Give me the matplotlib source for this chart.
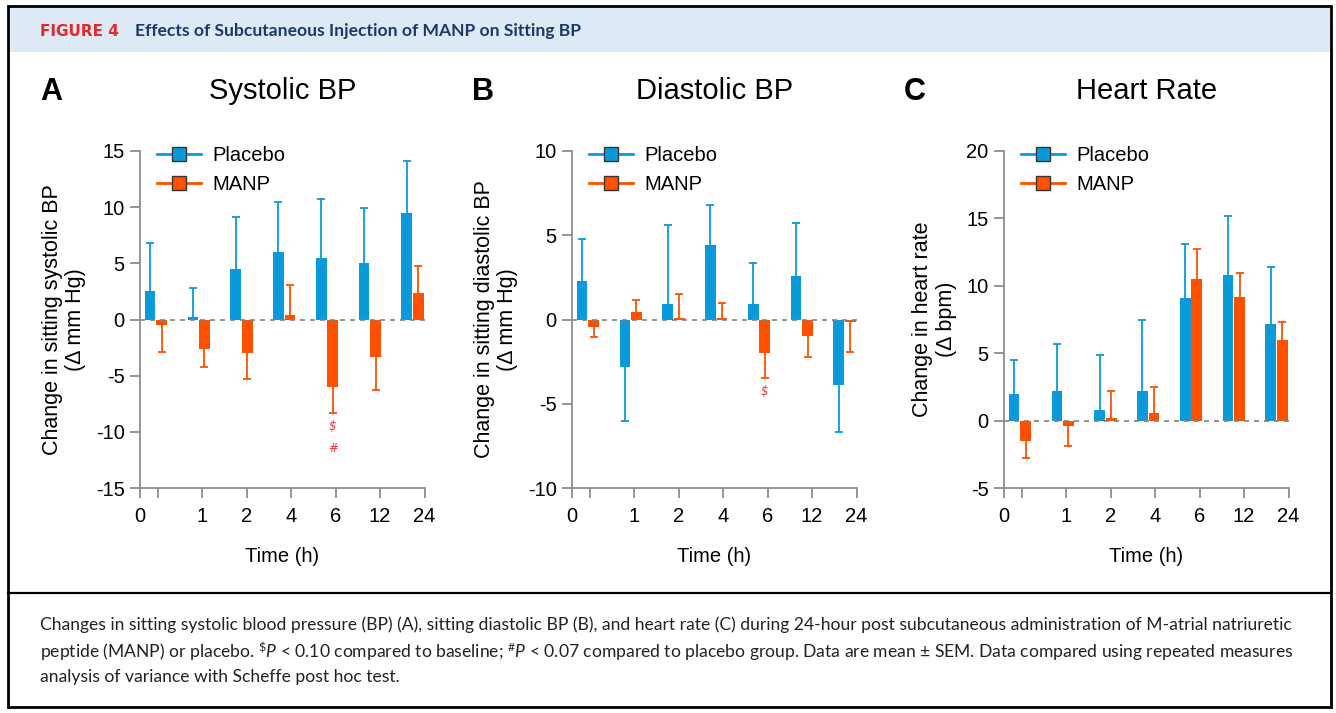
import numpy as np
import matplotlib
matplotlib.use("Agg")
from matplotlib import pyplot as plt
from matplotlib.lines import Line2D
from matplotlib.patches import Rectangle

# time points (h)
times = ["0", "1", "2", "4", "6", "12", "24"]

# systolic BP change (mm Hg), mean and SEM
sys_placebo = [2.5, 0.2, 4.5, 6.0, 5.5, 5.0, 9.5]
sys_placebo_sem = [4.3, 2.6, 4.6, 4.5, 5.2, 4.9, 4.6]
sys_manp = [-0.5, -2.6, -3.0, 0.4, -6.0, -3.3, 2.4]
sys_manp_sem = [2.4, 1.6, 2.3, 2.7, 2.3, 3.0, 2.4]

# diastolic BP change (mm Hg)
dia_placebo = [2.3, -2.8, 0.9, 4.4, 0.9, 2.6, -3.9]
dia_placebo_sem = [2.5, 3.2, 4.7, 2.4, 2.45, 3.15, 2.8]
dia_manp = [-0.45, 0.45, 0.1, 0.1, -2.0, -0.95, -0.15]
dia_manp_sem = [0.6, 0.7, 1.4, 0.9, 1.45, 1.25, 1.8]

# heart rate change (bpm)
hr_placebo = [2.0, 2.2, 0.8, 2.2, 9.1, 10.8, 7.2]
hr_placebo_sem = [2.5, 3.5, 4.1, 5.3, 4.0, 4.4, 4.2]
hr_manp = [-1.55, -0.4, 0.2, 0.6, 10.5, 9.15, 6.0]
hr_manp_sem = [1.25, 1.5, 2.0, 1.9, 2.25, 1.8, 1.3]

BLUE = "#0a9ad9"
ORANGE = "#ff5000"
AXGRAY = "#8c8c8c"
SIGRED = "#f0323c"
FS = 14.5

plt.rcParams["font.family"] = ["Liberation Sans", "DejaVu Sans"]
plt.rcParams["axes.unicode_minus"] = False

W, H = 1336, 713
fig = plt.figure(figsize=(W / 100, H / 100), dpi=100)


def fx(px):
    return px / W


def fy(py):
    return 1 - py / H


# frame, header band and caption separator
fig.patches.append(Rectangle((fx(8), fy(52)), fx(1323), 45 / H, transform=fig.transFigure,
                             facecolor="#dde9f5", edgecolor="none", zorder=0))
fig.patches.append(Rectangle((fx(8), fy(707)), fx(1323), 701 / H, transform=fig.transFigure,
                             facecolor="none", edgecolor="black", lw=2, zorder=5))
fig.lines.append(Line2D([fx(8), fx(1331)], [fy(593), fy(593)], transform=fig.transFigure,
                        color="black", lw=1.6))

fig.text(fx(40), fy(31), "FIGURE 4", color="#e0282e", fontsize=11, fontweight="bold",
         family="DejaVu Sans", va="center", ha="left")
fig.text(fx(135), fy(31), "Effects of Subcutaneous Injection of MANP on Sitting BP",
         color="#1b3a6b", fontsize=12.6, fontweight="bold", family="Lato", va="center", ha="left")

plt.rcParams["mathtext.fontset"] = "custom"
plt.rcParams["mathtext.rm"] = "Lato"
plt.rcParams["mathtext.it"] = "Lato:italic"
caption = [
    "Changes in sitting systolic blood pressure (BP) (A), sitting diastolic BP (B), and heart rate (C) "
    "during 24-hour post subcutaneous administration of M-atrial natriuretic",
    r"peptide (MANP) or placebo. $^{\$}\mathit{P}$ < 0.10 compared to baseline; "
    r"$^{\#}\mathit{P}$ < 0.07 compared to placebo group. Data are mean $\pm$ SEM. "
    "Data compared using repeated measures",
    "analysis of variance with Scheffe post hoc test.",
]
for i, line in enumerate(caption):
    fig.text(fx(40), fy(625 + 26 * i), line, fontsize=12.6, family="Lato", color="#222222",
             va="center", ha="left")

panels = [
    dict(letter="A", title="Systolic BP", left=140, right=425,
         ylabel="Change in sitting systolic BP\n(\u0394 mm Hg)", ylim=(-15, 15),
         placebo=sys_placebo, p_sem=sys_placebo_sem, manp=sys_manp, m_sem=sys_manp_sem,
         marks=["$", "#"]),
    dict(letter="B", title="Diastolic BP", left=572, right=857,
         ylabel="Change in sitting diastolic BP\n(\u0394 mm Hg)", ylim=(-10, 10),
         placebo=dia_placebo, p_sem=dia_placebo_sem, manp=dia_manp, m_sem=dia_manp_sem,
         marks=["$"]),
    dict(letter="C", title="Heart Rate", left=1004, right=1289,
         ylabel="Change in heart rate\n(\u0394 bpm)", ylim=(-5, 20),
         placebo=hr_placebo, p_sem=hr_placebo_sem, manp=hr_manp, m_sem=hr_manp_sem,
         marks=[]),
]

x = np.arange(len(times))
width = 0.25
off = 0.135
tick_pos = np.linspace(0.04, 6.28, len(times))
xmin, xmax = -0.37, 6.29

for p in panels:
    ax = fig.add_axes([fx(p["left"]), fy(488), (p["right"] - p["left"]) / W, 337 / H])
    for vals, sem, pos, col in [(p["placebo"], p["p_sem"], x - off, BLUE),
                                (p["manp"], p["m_sem"], x + off, ORANGE)]:
        vals = np.array(vals)
        sem = np.array(sem)
        # error shown only on the side the bar points to
        ends = vals + np.where(vals >= 0, sem, -sem)
        ax.bar(pos, vals, width, color=col, zorder=2)
        ax.vlines(pos, vals, ends, color=col, lw=1.3, zorder=1)
        ax.plot(pos, ends, ls="none", marker="_", markersize=6, markeredgewidth=1.3,
                color=col, zorder=1)
    ax.axhline(0, color="#808080", lw=1.2, ls=(0, (3, 3)), zorder=3)

    # significance symbols under MANP at 6 h
    i6 = times.index("6")
    base = p["manp"][i6] - p["m_sem"][i6]
    step = (p["ylim"][1] - p["ylim"][0]) / 30 * 2.0
    for k, s in enumerate(p["marks"]):
        ax.text(x[i6] + off, base - step * (0.6 + k), s, color=SIGRED, fontsize=8.5,
                style="italic", family="DejaVu Sans", ha="center", va="center")

    ax.set_xlim(xmin, xmax)
    ax.set_ylim(*p["ylim"])
    ax.set_yticks(np.arange(p["ylim"][0], p["ylim"][1] + 1, 5))
    ax.set_xticks(np.concatenate([[xmin], tick_pos]))
    ax.set_xticklabels(["0", ""] + times[1:])
    for sp in ["top", "right"]:
        ax.spines[sp].set_visible(False)
    for sp in ["left", "bottom"]:
        ax.spines[sp].set_color(AXGRAY)
        ax.spines[sp].set_linewidth(1.3)
    ax.tick_params(axis="both", colors=AXGRAY, labelcolor="black", labelsize=FS,
                   length=7, width=1.3)
    ax.tick_params(axis="x", pad=7)
    ax.tick_params(axis="y", pad=4)
    ax.set_ylabel(p["ylabel"], fontsize=15.5, labelpad=7, linespacing=1.15)
    ax.set_xlabel("Time (h)", fontsize=FS, labelpad=15)
    ax.set_facecolor("none")

    handles = [Line2D([], [], color=BLUE, lw=2, marker="s", markersize=10,
                      markerfacecolor=BLUE, markeredgecolor="#333333", markeredgewidth=1),
               Line2D([], [], color=ORANGE, lw=2, marker="s", markersize=10,
                      markerfacecolor=ORANGE, markeredgecolor="#333333", markeredgewidth=1)]
    ax.legend(handles, ["Placebo", "MANP"], loc="upper left", bbox_to_anchor=(0.06, 1.015),
              frameon=False, fontsize=FS, handlelength=2.2, handletextpad=0.55,
              labelspacing=0.5, borderpad=0, borderaxespad=0)

    cx = (p["left"] + p["right"]) / 2
    fig.text(fx(cx), fy(91), p["title"], fontsize=21, ha="center", va="center")
    fig.text(fx(p["left"] - 100), fy(92), p["letter"], fontsize=22, fontweight="bold",
             ha="left", va="center")

fig.savefig("out.png", dpi=100)
